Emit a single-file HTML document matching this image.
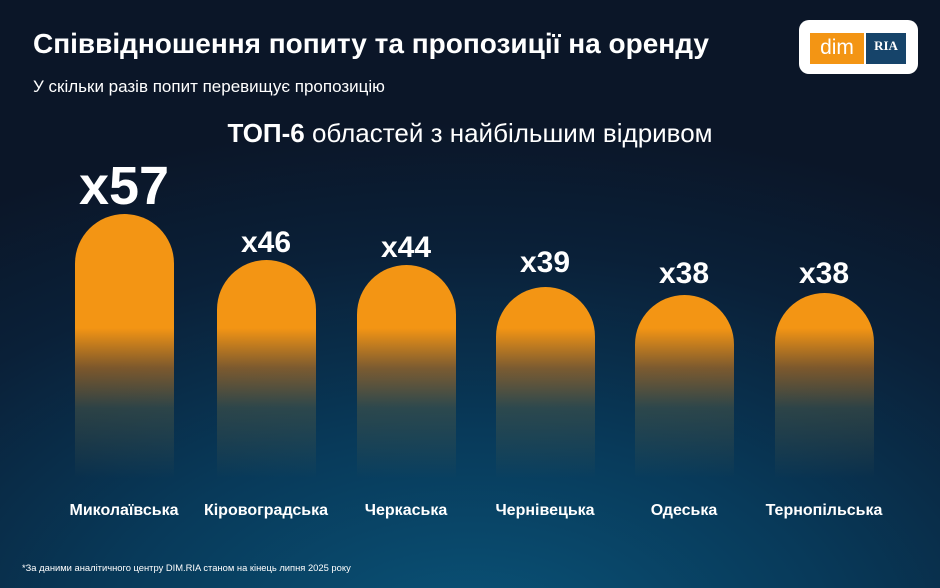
<!DOCTYPE html>
<html><head><meta charset="utf-8"><style>
*{margin:0;padding:0;box-sizing:border-box}
body{width:940px;height:588px;overflow:hidden;position:relative;font-family:"Liberation Sans",sans-serif;color:#fff;
background:radial-gradient(ellipse 900px 520px at 470px 640px,#0a5479 0%,#083a5a 40%,#0a2038 75%,#0b1628 100%);}
.t{position:absolute;white-space:nowrap}
.bar{position:absolute;width:99px;border-radius:50px 50px 0 0;bottom:110px;
background:linear-gradient(to bottom,#f39514 0,#f39514 calc(100% - 150px),rgba(200,120,30,.6) calc(100% - 110px),rgba(80,90,70,.5) calc(100% - 70px),rgba(20,80,110,0) 100%)}
.v{position:absolute;width:140px;text-align:center;font-weight:bold}
.l{position:absolute;width:160px;text-align:center;font-size:16px;font-weight:bold;top:502px}
</style></head><body>
<div class="t" style="left:33px;top:28px;font-size:28px;font-weight:bold">Співвідношення попиту та пропозиції на оренду</div>
<div class="t" style="left:33px;top:77px;font-size:17px">У скільки разів попит перевищує пропозицію</div>
<div class="t" style="left:0;width:940px;text-align:center;top:118px;font-size:26px"><b>ТОП-6</b> областей з найбільшим відривом</div>
<div style="position:absolute;left:799px;top:20px;width:119px;height:54px;background:#fff;border-radius:10px"></div>
<div style="position:absolute;left:810px;top:33px;width:54px;height:31px;background:#f39514;font-size:21px;text-align:center;line-height:30px">dim</div>
<div style="position:absolute;left:866px;top:33px;width:40px;height:31px;background:#16446a;font-size:13px;font-weight:bold;font-family:'Liberation Serif',serif;text-align:center;line-height:26px">RIA</div>

<div class="bar" style="left:75px;top:214px"></div>
<div class="bar" style="left:217px;top:260px"></div>
<div class="bar" style="left:357px;top:265px"></div>
<div class="bar" style="left:496px;top:287px"></div>
<div class="bar" style="left:635px;top:295px"></div>
<div class="bar" style="left:775px;top:293px"></div>

<div class="v" style="left:54px;top:155px;font-size:54px">x57</div>
<div class="v" style="left:196px;top:226px;font-size:30px">x46</div>
<div class="v" style="left:336px;top:231px;font-size:30px">x44</div>
<div class="v" style="left:475px;top:246px;font-size:30px">x39</div>
<div class="v" style="left:614px;top:257px;font-size:30px">x38</div>
<div class="v" style="left:754px;top:257px;font-size:30px">x38</div>

<div class="l" style="left:44px">Миколаївська</div>
<div class="l" style="left:186px">Кіровоградська</div>
<div class="l" style="left:326px">Черкаська</div>
<div class="l" style="left:465px">Чернівецька</div>
<div class="l" style="left:604px">Одеська</div>
<div class="l" style="left:744px">Тернопільська</div>
<div class="t" style="left:22px;top:562px;font-size:9.4px">*За даними аналітичного центру DIM.RIA станом на кінець липня 2025 року</div>
</body></html>
